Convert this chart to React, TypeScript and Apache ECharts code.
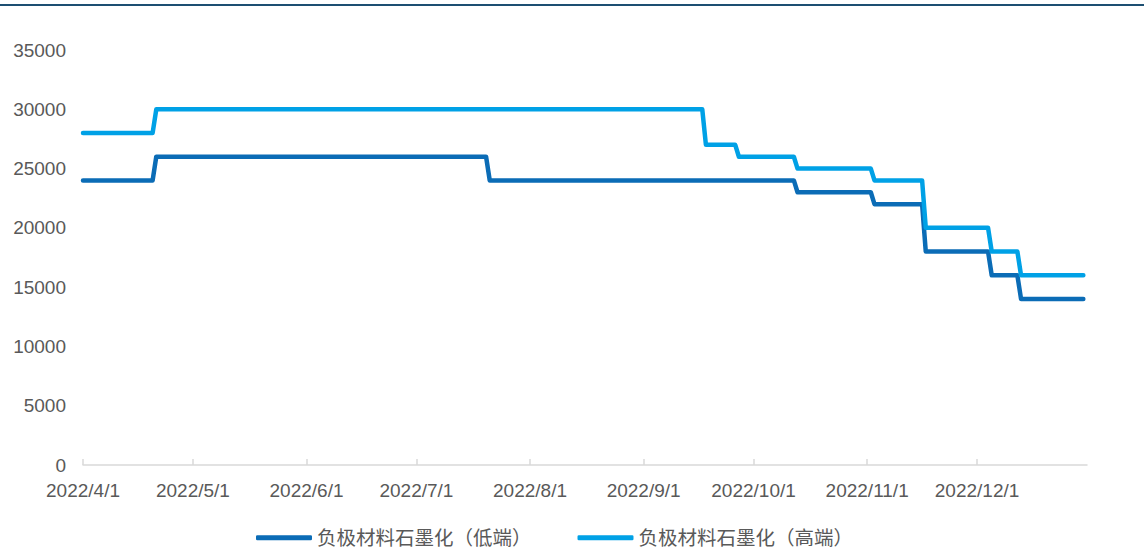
import React, { useEffect, useRef } from "react";
import * as echarts from "echarts";

const seriesNames = ["负极材料石墨化（低端）", "负极材料石墨化（高端）"];

// Step-change points (date, price) for the low-end series
const lowDates = [
  "2022-04-01", "2022-04-20", "2022-04-21", "2022-07-20", "2022-07-21",
  "2022-10-12", "2022-10-13", "2022-11-02", "2022-11-03", "2022-11-16",
  "2022-11-17", "2022-12-04", "2022-12-05", "2022-12-12", "2022-12-13",
  "2022-12-30",
];
const lowValues = [
  24000, 24000, 26000, 26000, 24000,
  24000, 23000, 23000, 22000, 22000,
  18000, 18000, 16000, 16000, 14000,
  14000,
];

// Step-change points (date, price) for the high-end series
const highDates = [
  "2022-04-01", "2022-04-20", "2022-04-21", "2022-09-17", "2022-09-18",
  "2022-09-26", "2022-09-27", "2022-10-12", "2022-10-13", "2022-11-02",
  "2022-11-03", "2022-11-16", "2022-11-17", "2022-12-04", "2022-12-05",
  "2022-12-12", "2022-12-13", "2022-12-30",
];
const highValues = [
  28000, 28000, 30000, 30000, 27000,
  27000, 26000, 26000, 25000, 25000,
  24000, 24000, 20000, 20000, 18000,
  18000, 16000, 16000,
];

const xTickDates = [
  "2022-04-01", "2022-05-01", "2022-06-01", "2022-07-01", "2022-08-01",
  "2022-09-01", "2022-10-01", "2022-11-01", "2022-12-01",
];
const xMinDate = "2022-04-01";
const xMaxDate = "2022-12-31";

const toTs = (s: string) => {
  const [y, m, d] = s.split("-").map(Number);
  return Date.UTC(y, m - 1, d);
};
const fmt = (v: number) => {
  const dt = new Date(v);
  return `${dt.getUTCFullYear()}/${dt.getUTCMonth() + 1}/${dt.getUTCDate()}`;
};

const FONT = "'Liberation Sans', Arial, 'Noto Sans CJK SC', sans-serif";
const TEXT = "#595959";
const COLORS = ["#0b6cb6", "#00a1e6"];

export default function App() {
  const ref = useRef<HTMLDivElement>(null);
  useEffect(() => {
    if (!ref.current) return;
    const chart = echarts.init(ref.current, undefined, { renderer: "svg" });
    const tickTs = xTickDates.map(toTs);
    chart.setOption({
      animation: false,
      backgroundColor: "#ffffff",
      textStyle: { fontFamily: FONT },
      graphic: [
        {
          type: "rect",
          left: 0,
          top: 4,
          shape: { width: 1144, height: 2 },
          style: { fill: "#1d4f72" },
        },
      ],
      grid: { left: 83, right: 57, top: 50, bottom: 84, containLabel: false },
      legend: {
        left: 251,
        top: 523,
        itemWidth: 56,
        itemHeight: 5,
        itemGap: 46,
        icon: "roundRect",
        textStyle: { color: TEXT, fontSize: 19.5, fontFamily: FONT, padding: [0, 0, 0, 0] },
        data: seriesNames,
      },
      xAxis: {
        type: "value",
        min: toTs(xMinDate),
        max: toTs(xMaxDate),
        splitLine: { show: false },
        axisLine: { show: true, lineStyle: { color: "#d9d9d9", width: 1.5 } },
        axisTick: {
          show: true,
          inside: true,
          length: 6,
          customValues: tickTs,
          lineStyle: { color: "#d9d9d9", width: 1.5 },
        },
        axisLabel: {
          customValues: tickTs,
          formatter: (v: number) => fmt(v),
          color: TEXT,
          fontSize: 19,
          margin: 16,
          fontFamily: FONT,
        },
      },
      yAxis: {
        type: "value",
        min: 0,
        max: 35000,
        interval: 5000,
        splitLine: { show: false },
        axisLine: { show: false },
        axisTick: { show: false },
        axisLabel: {
          color: TEXT,
          fontSize: 19,
          margin: 17,
          fontFamily: FONT,
          formatter: (v: number) => String(v),
        },
      },
      series: [
        {
          name: seriesNames[0],
          type: "line",
          showSymbol: false,
          symbol: "none",
          data: lowDates.map((d, i) => [toTs(d), lowValues[i]]),
          lineStyle: { color: COLORS[0], width: 4.5, cap: "round", join: "round" },
          itemStyle: { color: COLORS[0] },
          z: 2,
        },
        {
          name: seriesNames[1],
          type: "line",
          showSymbol: false,
          symbol: "none",
          data: highDates.map((d, i) => [toTs(d), highValues[i]]),
          lineStyle: { color: COLORS[1], width: 4.5, cap: "round", join: "round" },
          itemStyle: { color: COLORS[1] },
          z: 3,
        },
      ],
    });
    return () => chart.dispose();
  }, []);
  return (
    <div
      ref={ref}
      style={{ position: "fixed", left: 0, top: 0, width: 1144, height: 549 }}
    />
  );
}
